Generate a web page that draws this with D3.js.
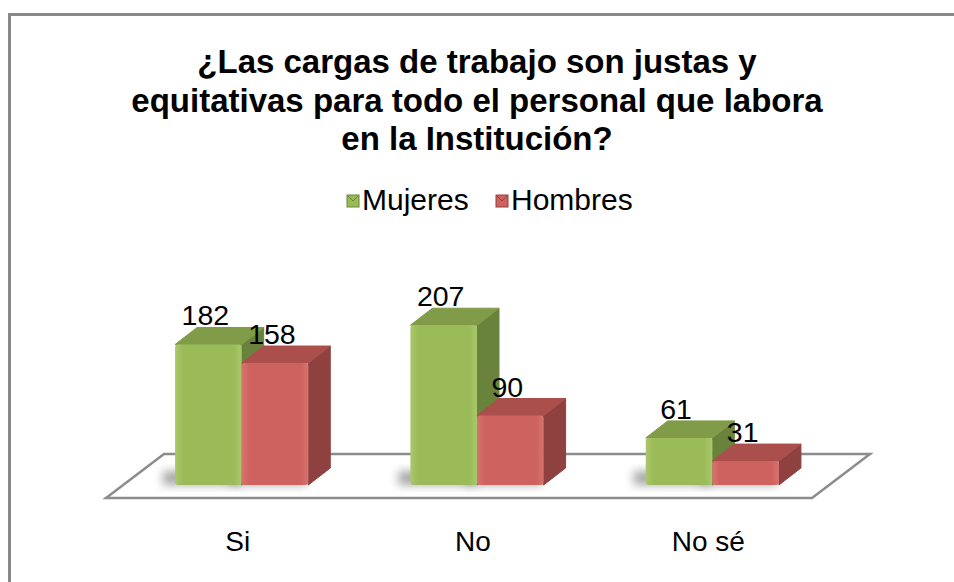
<!DOCTYPE html>
<html>
<head>
<meta charset="utf-8">
<script src="https://cdn.jsdelivr.net/npm/d3@7/dist/d3.min.js"></script>
<style>
  body { margin: 0; background: #fff; }
  svg { display: block; font-family: Arial, "Liberation Sans", sans-serif; }
</style>
</head>
<body>
<div id="chart"></div>
<script>
const categories = ['Si', 'No', 'No sé'];
const seriesNames = ['Mujeres', 'Hombres'];
const mujeres = [182, 207, 61];
const hombres = [158, 90, 31];
const titleLines = ['¿Las cargas de trabajo son justas y', 'equitativas para todo el personal que labora', 'en la Institución?'];

const width = 954, height = 582;
const baseY = 485;
const depth = { dx: 22, dy: -17 };
const floorDepth = { dx: 58, dy: -44 };
const colors = {
  Mujeres: { front: '#9bbb59', top: '#809c49', side: '#6a833c', light: '#a9c86a' },
  Hombres: { front: '#cd625e', top: '#aa4f4b', side: '#8e413e', light: '#d8726e' }
};

const svg = d3.select('#chart').append('svg')
  .attr('width', width)
  .attr('height', height);

const defs = svg.append('defs');
defs.append('filter').attr('id', 'blur').attr('x', '-50%').attr('y', '-50%').attr('width', '200%').attr('height', '200%')
  .append('feGaussianBlur').attr('stdDeviation', 5);
Object.entries(colors).forEach(([name, c]) => {
  const g = defs.append('linearGradient').attr('id', 'grad-' + name).attr('x1', 0).attr('x2', 1).attr('y1', 0).attr('y2', 0);
  g.append('stop').attr('offset', '0%').attr('stop-color', c.light);
  g.append('stop').attr('offset', '12%').attr('stop-color', c.front);
  g.append('stop').attr('offset', '88%').attr('stop-color', c.front);
  g.append('stop').attr('offset', '100%').attr('stop-color', c.light);
});

// outer frame
svg.append('rect')
  .attr('x', 9.5).attr('y', 14.5)
  .attr('width', 1000).attr('height', 700)
  .attr('fill', 'none')
  .attr('stroke', '#898989')
  .attr('stroke-width', 3);

// title
svg.append('text')
  .attr('text-anchor', 'middle')
  .attr('font-size', 33)
  .attr('font-weight', 'bold')
  .attr('fill', '#000')
  .selectAll('tspan')
  .data(titleLines)
  .join('tspan')
  .attr('x', 477)
  .attr('y', (d, i) => 73 + i * 38.5)
  .text(d => d);

// legend
const legend = svg.append('g');
const legendX = [347, 496];
seriesNames.forEach((name, i) => {
  const g = legend.append('g').attr('transform', `translate(${legendX[i]},195)`);
  g.append('rect').attr('width', 12).attr('height', 12).attr('fill', colors[name].front)
    .attr('stroke', colors[name].side).attr('stroke-width', 1);
  g.append('path').attr('d', 'M1,1L6,6L11,1').attr('fill', 'none').attr('stroke', colors[name].side).attr('stroke-width', 1);
  g.append('text').attr('x', 15).attr('y', 15).attr('font-size', 30).text(name);
});

// scales
const x = d3.scaleBand()
  .domain(categories)
  .range([124, 830])
  .paddingInner(0.434)
  .paddingOuter(0.217);

const xInner = d3.scaleBand()
  .domain(seriesNames)
  .range([0, x.bandwidth()]);

const y = d3.scaleLinear()
  .domain([0, 250])
  .range([baseY, baseY - 193]);

// floor
const fx0 = x.range()[0] - 18, fx1 = x.range()[1] - 18, fy = 498;
svg.append('path')
  .attr('d', d3.line()([
    [fx0, fy], [fx1, fy],
    [fx1 + floorDepth.dx, fy + floorDepth.dy],
    [fx0 + floorDepth.dx, fy + floorDepth.dy]
  ]) + 'Z')
  .attr('fill', '#fff')
  .attr('stroke', '#8c8c8c')
  .attr('stroke-width', 2.5);

const bars = [];
categories.forEach((cat, i) => {
  bars.push({ cat, series: 'Mujeres', value: mujeres[i] });
  bars.push({ cat, series: 'Hombres', value: hombres[i] });
});

// shadows
svg.append('g').selectAll('rect')
  .data(bars)
  .join('rect')
  .attr('x', d => x(d.cat) + xInner(d.series) - 12)
  .attr('y', baseY - 14)
  .attr('width', xInner.bandwidth() + 10)
  .attr('height', 14)
  .attr('fill', '#8a8a8a')
  .attr('opacity', 0.75)
  .attr('filter', 'url(#blur)');

// 3D bars
const barG = svg.append('g').selectAll('g')
  .data(bars)
  .join('g');

barG.each(function(d) {
  const g = d3.select(this);
  const x0 = x(d.cat) + xInner(d.series);
  const w = xInner.bandwidth();
  const yt = y(d.value);
  const c = colors[d.series];
  // side face
  g.append('path')
    .attr('d', d3.line()([[x0 + w, yt], [x0 + w + depth.dx, yt + depth.dy], [x0 + w + depth.dx, baseY + depth.dy], [x0 + w, baseY]]) + 'Z')
    .attr('fill', c.side)
    .attr('stroke', c.side).attr('stroke-width', 1).attr('stroke-linejoin', 'round');
  // top face
  g.append('path')
    .attr('d', d3.line()([[x0, yt], [x0 + depth.dx, yt + depth.dy], [x0 + w + depth.dx, yt + depth.dy], [x0 + w, yt]]) + 'Z')
    .attr('fill', c.top)
    .attr('stroke', c.top).attr('stroke-width', 1).attr('stroke-linejoin', 'round');
  // front face
  g.append('rect')
    .attr('x', x0).attr('y', yt)
    .attr('width', w).attr('height', baseY - yt)
    .attr('rx', 3)
    .attr('fill', `url(#grad-${d.series})`);
});

// data labels
svg.append('g').selectAll('text')
  .data(bars)
  .join('text')
  .attr('x', d => x(d.cat) + xInner(d.series) + xInner.bandwidth() / 2 - 3)
  .attr('y', d => y(d.value) + depth.dy - 2)
  .attr('text-anchor', 'middle')
  .attr('font-size', 28.5)
  .attr('fill', '#000')
  .text(d => d.value);

// category axis labels
svg.append('g').selectAll('text')
  .data(categories)
  .join('text')
  .attr('x', d => x(d) + x.bandwidth() / 2 - 4)
  .attr('y', 551)
  .attr('text-anchor', 'middle')
  .attr('font-size', 28)
  .attr('fill', '#000')
  .text(d => d);
</script>
</body>
</html>
